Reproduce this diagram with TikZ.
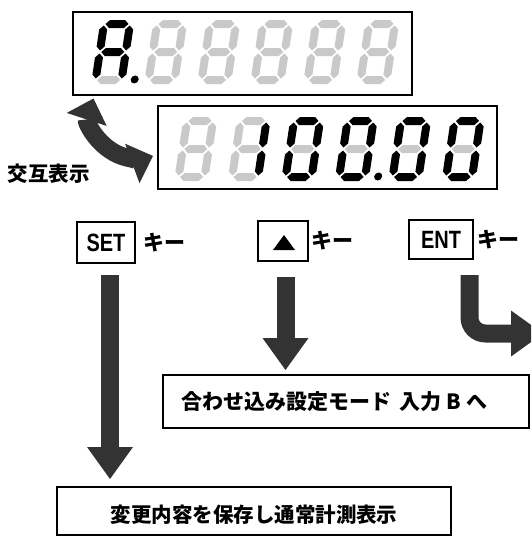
\documentclass[tikz,border=0pt]{standalone}
\usepackage{fontspec}
\usetikzlibrary{arrows.meta}
\newfontfamily\jp{Noto Sans CJK JP}
\newfontfamily\keyfont{Liberation Sans}[FakeStretch=0.8]
\definecolor{arr}{HTML}{333333}
\definecolor{segoff}{HTML}{C9C9C9}
\definecolor{segon}{HTML}{000000}
% seven-segment digit: #1 = bottom-left position, #2..#8 = colours of segments a..g, #9 = decimal point
\newcommand\sdig[9]{%
  \begin{scope}[shift={(#1)},xslant=0.15]
    \fill[#2] (5.5,-60)--(9.5,-64)--(24.5,-64)--(28.5,-60)--(24.5,-56)--(9.5,-56)--cycle;
    \fill[#3] (30,-58.5)--(34,-54.5)--(34,-37.5)--(30,-33.5)--(26,-37.5)--(26,-54.5)--cycle;
    \fill[#4] (30,-30.5)--(34,-26.5)--(34,-9.5)--(30,-5.5)--(26,-9.5)--(26,-26.5)--cycle;
    \fill[#5] (5.5,-4)--(9.5,-8)--(24.5,-8)--(28.5,-4)--(24.5,0)--(9.5,0)--cycle;
    \fill[#6] (4,-30.5)--(8,-26.5)--(8,-9.5)--(4,-5.5)--(0,-9.5)--(0,-26.5)--cycle;
    \fill[#7] (4,-58.5)--(8,-54.5)--(8,-37.5)--(4,-33.5)--(0,-37.5)--(0,-54.5)--cycle;
    \fill[#8] (5.5,-32)--(9.5,-36)--(24.5,-36)--(28.5,-32)--(24.5,-28)--(9.5,-28)--cycle;
    \fill[#9] (43,-4.5) circle[radius=4];
  \end{scope}}
\newcommand\offdig[1]{\sdig{#1}{segoff}{segoff}{segoff}{segoff}{segoff}{segoff}{segoff}{white}}
\newcommand\zerodig[2]{\sdig{#1}{segon}{segon}{segon}{segon}{segon}{segon}{segoff}{#2}}
\tikzset{
  dispbox/.style={draw=black, line width=2pt, inner sep=0pt},
  keybox/.style={draw=black, line width=1.5pt, inner sep=0pt, font=\keyfont\bfseries\fontsize{25pt}{25pt}\selectfont},
  flowbox/.style={draw=black, line width=1.8pt, inner sep=0pt},
  jptext/.style={inner sep=0pt, font=\jp\bfseries\fontsize{21pt}{21pt}\selectfont},
  bigarrow/.style={draw=arr, line width=18pt, -{Triangle[width=46pt,length=32pt,line width=0pt]}},
  swaparrow/.style={draw=arr, line width=18pt,
    {Triangle[width=42pt,length=22pt,line width=0pt]}-{Triangle[width=42pt,length=22pt,line width=0pt]}}
}
\begin{document}
\begin{tikzpicture}[x=1pt,y=-1pt]
\useasboundingbox (0,0) rectangle (531,536);
\fill[white] (0,0) rectangle (531,536);
\clip (0,0) rectangle (531,536);

% displays
\node[dispbox, minimum width=339pt, minimum height=83pt] (disp1) at (242.5,53.5) {};
\node[dispbox, minimum width=339pt, minimum height=83pt] (disp2) at (327.5,147.5) {};

\sdig{91,84}{segon}{segon}{segon}{segoff}{segon}{segon}{segon}{segon}
\offdig{144,84}
\offdig{197,84}
\offdig{250,84}
\offdig{303,84}
\offdig{356,84}

\offdig{174,181}
\sdig{227.5,181}{segoff}{segon}{segon}{segoff}{segoff}{segoff}{segoff}{white}
\zerodig{281,181}{white}
\zerodig{334.5,181}{segon}
\zerodig{388,181}{white}
\zerodig{441.5,181}{white}

% alternating display arrow
\coordinate (swa) at (93.5,98.5);
\draw[swaparrow] (swa) arc[start angle=198, end angle=70, radius=46];
\node[jptext, font=\jp\bfseries\fontsize{20.5pt}{20.5pt}\selectfont] (alt) at (49,174) {交互表示};

% keys
\node[keybox, minimum width=58pt, minimum height=41pt] (setkey) at (106,242.5) {SET};
\node[jptext] (kset) at (164,243) {キー};
\node[keybox, minimum width=50pt, minimum height=40pt] (upkey) at (283,241) {};
\fill[black] (273,250) -- (295,250) -- (284,235) -- cycle;
\node[jptext] (kup) at (332.5,241) {キー};
\node[keybox, minimum width=64pt, minimum height=39pt] (entkey) at (441,239.5) {ENT};
\node[jptext] (kent) at (498,240) {キー};

% result boxes
\node[flowbox, minimum width=366pt, minimum height=53pt] (modebox) at (346,401.5) {};
\node[jptext] (modetext) at (334.5,402) {合わせ込み設定モード\hspace{8pt}入力 B へ};
\node[flowbox, minimum width=394pt, minimum height=48pt] (savebox) at (254,511) {};
\node[jptext, font=\jp\bfseries\fontsize{20.5pt}{20.5pt}\selectfont] (savetext) at (254,515) {変更内容を保存し通常計測表示};

% arrows
\coordinate (sa) at (110,275);
\coordinate (sb) at (110,479);
\draw[bigarrow] (sa) -- (sb);
\coordinate (ua) at (285.5,277);
\coordinate (ub) at (285.5,370);
\draw[bigarrow] (ua) -- (ub);
\coordinate (ea) at (469.5,275);
\coordinate (eb) at (543,333.5);
\draw[bigarrow, rounded corners=16pt] (ea) |- (eb);
\end{tikzpicture}
\end{document}
